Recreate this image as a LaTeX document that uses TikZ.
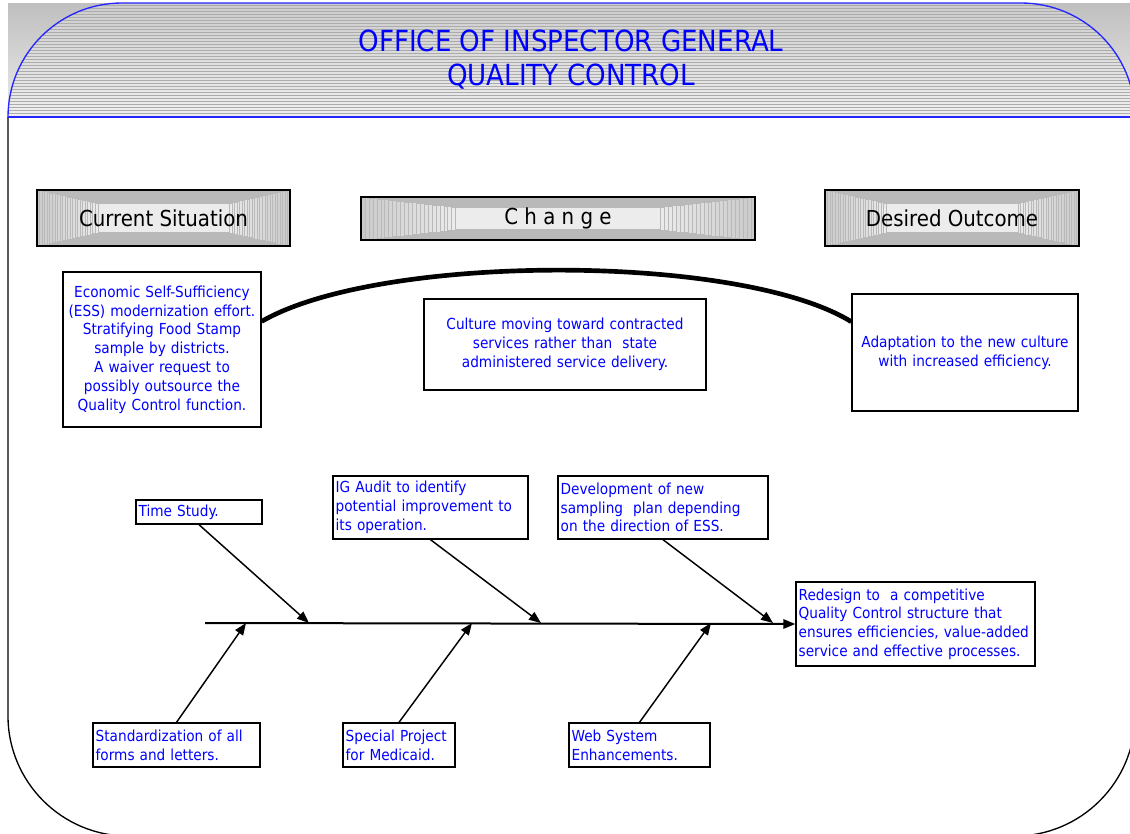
\documentclass[tikz,border=0pt]{standalone}
\usepackage{fontspec}
\setmainfont{DejaVu Sans Condensed}
\usetikzlibrary{calc,arrows.meta}

\begin{document}
\begin{tikzpicture}[x=0.75pt,y=0.75pt,yscale=-1,xscale=1,
  box/.style={draw, line width=1pt, fill=white, text=blue, inner sep=2pt,
    font=\fontsize{11.4}{14.1}\selectfont},
  hdr/.style={draw, line width=1.3pt, inner sep=0pt,
    font=\fontsize{16.5}{20}\selectfont,
    path picture={
      \foreach \t [evaluate=\t as \c using {int(42-0.55*\t)}] in {0,2,...,48}{
        \filldraw[fill=gray!\c, draw=gray!55, line width=0.3pt]
          ($(path picture bounding box.south west)!\t/100!(path picture bounding box.center)$)
          rectangle
          ($(path picture bounding box.north east)!\t/100!(path picture bounding box.center)$);
      }}},
  arr/.style={-{Triangle[length=9pt,width=7pt]}, line width=1.1pt},
]
\useasboundingbox (0,0) rectangle (1130,833);
\clip (0,0) rectangle (1130,833);

% header band
\shade[top color=gray!50, bottom color=gray!15] (8,3) rectangle (1135,117);
\begin{scope}
\clip (8,117) -- (8,117) .. controls (8,54) and (59,3) .. (122,3) -- (1021,3)
  .. controls (1084,3) and (1135,54) .. (1135,117) -- cycle;
\shade[top color=gray!40, bottom color=gray!12] (8,3) rectangle (1135,117);
\foreach \y in {5,8,...,116}
  \draw[gray!65, line width=0.45pt] (8,\y) -- (1135,\y);
\end{scope}
\draw[blue!85, line width=1pt] (8,117) .. controls (8,54) and (59,3) .. (122,3) -- (1021,3)
  .. controls (1084,3) and (1135,54) .. (1135,117) -- cycle;
\draw[line width=1pt] (8,117) -- (8,716) .. controls (8,782) and (62,836) .. (128,836)
  -- (1015,836) .. controls (1081,836) and (1135,782) .. (1135,716) -- (1135,117);
\draw[blue!85, line width=1pt] (8,117) -- (1135,117);

\node[text=blue, align=center, font=\fontsize{21.8}{25.5}\selectfont] (title) at (571,60)
  {OFFICE OF INSPECTOR GENERAL\\QUALITY CONTROL};

% column headings
\node[hdr, minimum width=189.75pt, minimum height=42pt] (cur) at (163.5,218) {Current Situation};
\node[hdr, minimum width=295.5pt, minimum height=32.25pt] (chg) at (558,218.5) {C h a n g e};
\node[hdr, minimum width=190.5pt, minimum height=42pt] (des) at (952,218) {Desired Outcome};

% situation boxes
\node[box, align=center, text width=144.5pt, minimum height=116.25pt] (ess) at (162,349.5)
  {Economic Self-Sufficiency\\(ESS) modernization effort.\\Stratifying Food Stamp\\sample by districts.\\A waiver request to\\possibly outsource the\\Quality Control function.};
\node[box, align=center, text width=207.5pt, minimum height=68.25pt] (culture) at (565,344.5)
  {Culture moving toward contracted\\services rather than \ state\\administered service delivery.};
\node[box, align=center, text width=165.5pt, minimum height=87.75pt] (adapt) at (965,352.5)
  {Adaptation to the new culture\\with increased efficiency.};

\draw[line width=3.5pt] ($(ess.north east)!0.32!(ess.south east)$)
  .. controls (380,253) and (740,253) .. ($(adapt.north west)!0.24!(adapt.south west)$);

% fishbone
\node[box, align=left, text width=90.5pt, minimum height=18pt] (time) at (199,512) {Time Study.};
\node[box, align=left, text width=142.25pt, minimum height=47.25pt] (audit) at (430.5,507.5)
  {IG Audit to identify\\potential improvement to\\its operation.};
\node[box, align=left, text width=153.5pt, minimum height=47.25pt] (devel) at (663,507.5)
  {Development of new\\sampling \ plan depending\\on the direction of ESS.};
\node[box, align=left, text width=175.25pt, minimum height=63pt] (redesign) at (915.5,624)
  {Redesign to \ a competitive\\Quality Control structure that\\ensures efficiencies, value-added\\service and effective processes.};
\node[box, align=left, text width=121.25pt, minimum height=33pt] (std) at (176.5,745)
  {Standardization of all\\forms and letters.};
\node[box, align=left, text width=80pt, minimum height=33pt] (special) at (399,745)
  {Special Project\\for Medicaid.};
\node[box, align=left, text width=101.75pt, minimum height=33pt] (web) at (639.5,745)
  {Web System\\Enhancements.};

\coordinate (tail) at (205,623);
\coordinate (s1) at (309,623);
\coordinate (s2) at (541,623);
\coordinate (s3) at (773,623);
\coordinate (b1) at (246,623);
\coordinate (b2) at (472,623);
\coordinate (b3) at (711,623);

\draw[arr, line width=1.5pt] (tail) -- (redesign.west);
\draw[arr] (time.south) -- (s1);
\draw[arr] (audit.south) -- (s2);
\draw[arr] (devel.south) -- (s3);
\draw[arr] (std.north) -- (b1);
\draw[arr] (special.north) -- (b2);
\draw[arr] (web.north) -- (b3);
\end{tikzpicture}
\end{document}
